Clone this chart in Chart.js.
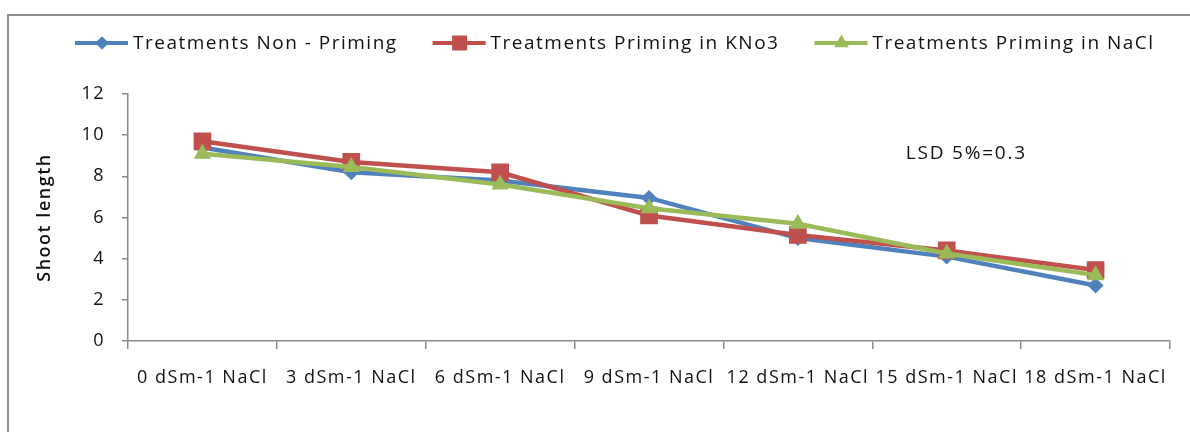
<!DOCTYPE html>
<html>
<head>
<meta charset="utf-8">
<script src="https://cdn.jsdelivr.net/npm/chart.js@4.4.1/dist/chart.umd.min.js"></script>
<style>
  html, body { margin: 0; padding: 0; background: #fff; }
  #wrap { width: 1190px; height: 432px; }
</style>
</head>
<body>
<div id="wrap"><canvas id="shootChart" width="1190" height="432"></canvas></div>
<script>
// categories and series
const categories = ['0 dSm-1 NaCl', '3 dSm-1 NaCl', '6 dSm-1 NaCl', '9 dSm-1 NaCl', '12 dSm-1 NaCl', '15 dSm-1 NaCl', '18 dSm-1 NaCl'];
const nonPriming = [9.4, 8.2, 7.8, 6.95, 5.0, 4.1, 2.7];
const primingKNo3 = [9.7, 8.7, 8.2, 6.1, 5.15, 4.4, 3.45];
const primingNaCl = [9.1, 8.45, 7.6, 6.45, 5.7, 4.25, 3.2];
const seriesNames = ['Treatments Non - Priming', 'Treatments Priming in KNo3', 'Treatments Priming in NaCl'];
const yTicks = [0, 2, 4, 6, 8, 10, 12];
const yTitle = 'Shoot length';
const lsdNote = 'LSD 5%=0.3';

const FONT = '"Open Sans", "Liberation Sans", sans-serif';
const TEXT = '#111';
const AXIS = '#8a8a8a';

// small marker painter, used for the legend
function marker(ctx, style, x, y, r, color) {
    ctx.fillStyle = color;
    ctx.beginPath();
    if (style === 'rectRot') {
        ctx.moveTo(x, y - r); ctx.lineTo(x + r, y); ctx.lineTo(x, y + r); ctx.lineTo(x - r, y);
    } else if (style === 'rect') {
        const s = r * Math.SQRT1_2;
        ctx.rect(x - s, y - s, 2 * s, 2 * s);
    } else {
        ctx.moveTo(x, y - r); ctx.lineTo(x + r * 0.866, y + r / 2); ctx.lineTo(x - r * 0.866, y + r / 2);
    }
    ctx.closePath();
    ctx.fill();
}

const decor = {
    id: 'decor',
    beforeDraw(chart) {
        const ctx = chart.ctx;
        ctx.save();
        ctx.fillStyle = '#fff';
        ctx.fillRect(0, 0, chart.width, chart.height);
        // outer frame (left and top edges show)
        ctx.strokeStyle = '#8e8e8e';
        ctx.lineWidth = 2;
        ctx.beginPath();
        ctx.moveTo(8, chart.height);
        ctx.lineTo(8, 15);
        ctx.lineTo(chart.width, 15);
        ctx.stroke();
        ctx.restore();
        ctx.letterSpacing = '1.5px';
    },
    afterDraw(chart) {
        const ctx = chart.ctx;
        ctx.save();
        ctx.letterSpacing = '1.5px';
        ctx.font = '19px ' + FONT;
        ctx.textBaseline = 'middle';
        ctx.textAlign = 'left';

        // legend: line with marker in the middle, then the name
        let x = 75;
        const ly = 43;
        chart.data.datasets.forEach(ds => {
            ctx.strokeStyle = ds.borderColor;
            ctx.lineWidth = 4;
            ctx.beginPath();
            ctx.moveTo(x, ly);
            ctx.lineTo(x + 53, ly);
            ctx.stroke();
            marker(ctx, ds.pointStyle, x + 27, ly, ds.pointRadius * 0.85, ds.borderColor);
            ctx.fillStyle = TEXT;
            ctx.fillText(ds.label, x + 58, ly + 1);
            x += 58 + ctx.measureText(ds.label).width + 35;
        });

        // y axis title
        ctx.save();
        ctx.translate(45, (chart.chartArea.top + chart.chartArea.bottom) / 2);
        ctx.rotate(-Math.PI / 2);
        ctx.textAlign = 'center';
        ctx.font = '600 18px ' + FONT;
        ctx.fillText(yTitle, 0, 0);
        ctx.restore();

        // LSD note
        const xs = chart.scales.x, ys = chart.scales.y;
        ctx.font = '19px ' + FONT;
        ctx.letterSpacing = '1.8px';
        ctx.fillText(lsdNote, xs.getPixelForValue(5) - 41, ys.getPixelForValue(9.1));
        ctx.restore();
    }
};

const ctx = document.getElementById('shootChart').getContext('2d');
new Chart(ctx, {
    type: 'line',
    data: {
        labels: categories,
        datasets: [
            { label: seriesNames[0], data: nonPriming, borderColor: '#4F81BD', backgroundColor: '#4F81BD',
              pointStyle: 'rectRot', pointRadius: 8, order: 3 },
            { label: seriesNames[1], data: primingKNo3, borderColor: '#C0504D', backgroundColor: '#C0504D',
              pointStyle: 'rect', pointRadius: 12.5, order: 2 },
            { label: seriesNames[2], data: primingNaCl, borderColor: '#9BBB59', backgroundColor: '#9BBB59',
              pointStyle: 'triangle', pointRadius: 10, order: 1 }
        ].map(ds => Object.assign(ds, { borderWidth: 4.5, pointBorderWidth: 0, pointHoverRadius: ds.pointRadius, tension: 0, fill: false }))
    },
    options: {
        responsive: false,
        animation: false,
        layout: { padding: { left: 0, top: 94, right: 20, bottom: 0 } },
        plugins: { legend: { display: false }, tooltip: { enabled: false } },
        scales: {
            x: {
                offset: true,
                grid: { offset: true, drawOnChartArea: false, tickLength: 8, color: AXIS, lineWidth: 1.5 },
                border: { color: AXIS, width: 1.5 },
                ticks: { autoSkip: false, maxRotation: 0, minRotation: 0, padding: 18, color: TEXT,
                         font: { family: FONT, size: 18 } },
                afterFit(scale) { scale.height = 91; }
            },
            y: {
                min: 0, max: 12,
                afterBuildTicks(scale) { scale.ticks = yTicks.map(v => ({ value: v })); },
                grid: { drawOnChartArea: false, tickLength: 6, color: AXIS, lineWidth: 1.5 },
                border: { color: AXIS, width: 1.5 },
                ticks: { padding: 17, color: TEXT, font: { family: FONT, size: 18 } },
                afterFit(scale) { scale.width = 128; }
            }
        }
    },
    plugins: [decor]
});
</script>
</body>
</html>
